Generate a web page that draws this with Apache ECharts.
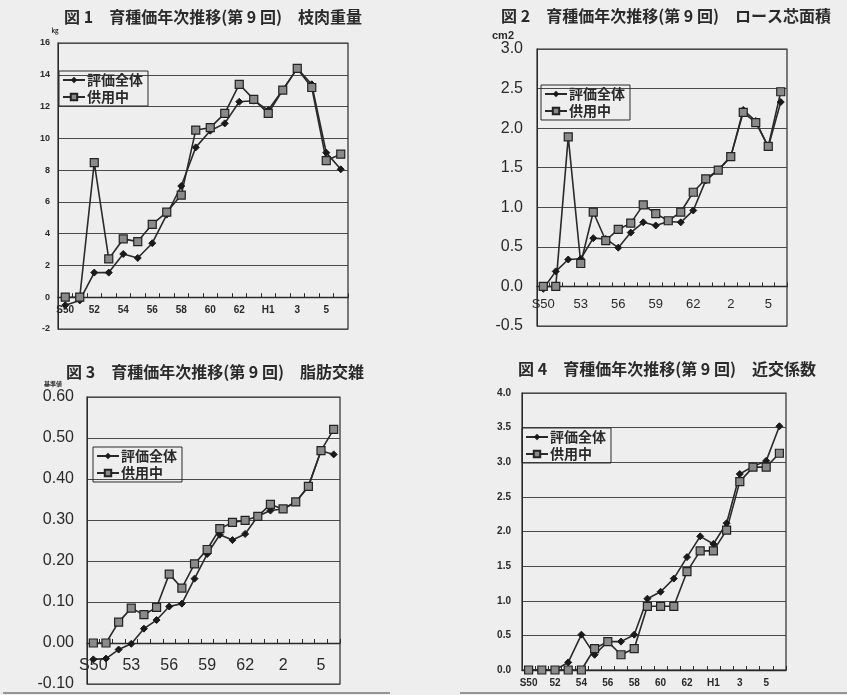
<!DOCTYPE html>
<html>
<head>
<meta charset="utf-8">
<script src="https://cdn.jsdelivr.net/npm/echarts@6/dist/echarts.min.js"></script>
<style>
html,body{margin:0;padding:0;background:#eeeeee;}
#c{width:847px;height:695px;}
</style>
</head>
<body>
<div id="c"></div>
<script>
const categories = ['S50','51','52','53','54','55','56','57','58','59','60','61','62','63','H1','2','3','4','5','6'];
const seriesNames = ['評価全体','供用中'];
const titles = [
  '図 1　育種価年次推移(第 9 回)　枝肉重量',
  '図 2　育種価年次推移(第 9 回)　ロース芯面積',
  '図 3　育種価年次推移(第 9 回)　脂肪交雑',
  '図 4　育種価年次推移(第 9 回)　近交係数'
];
const units = ['kg','cm2','基準値',''];

const c1All = [-0.5,-0.2,1.55,1.55,2.72,2.47,3.4,5.2,7.0,9.43,10.48,10.94,12.3,12.37,11.78,13.04,14.4,13.4,9.1,8.05];
const c1Use = [0,0,8.47,2.41,3.67,3.5,4.59,5.35,6.43,10.52,10.67,11.57,13.4,12.45,11.57,13.04,14.4,13.2,8.6,9.0];
const c2All = [-0.03,0.19,0.34,0.35,0.61,0.6,0.49,0.68,0.81,0.77,0.82,0.81,0.96,1.34,1.47,1.64,2.23,2.09,1.76,2.33];
const c2Use = [0,0,1.89,0.29,0.94,0.58,0.72,0.8,1.03,0.92,0.83,0.94,1.19,1.36,1.47,1.64,2.2,2.07,1.77,2.46];
const c3All = [-0.04,-0.038,-0.016,-0.002,0.035,0.056,0.089,0.096,0.157,0.217,0.264,0.251,0.266,0.309,0.323,0.327,0.344,0.382,0.469,0.46];
const c3Use = [0,0,0.051,0.085,0.069,0.087,0.168,0.134,0.193,0.228,0.279,0.294,0.299,0.309,0.338,0.327,0.344,0.382,0.469,0.521];
const c4All = [0,0,0,0.11,0.51,0.22,0.41,0.41,0.51,1.03,1.13,1.32,1.63,1.93,1.82,2.12,2.83,2.94,3.02,3.52];
const c4Use = [0,0,0,0,0,0.31,0.41,0.22,0.31,0.92,0.92,0.92,1.42,1.72,1.72,2.02,2.72,2.93,2.93,3.13];

const yMin = [-2,-0.5,-0.1,0];
const yMax = [16,3.0,0.6,4.0];
const yStep = [2,0.5,0.1,0.5];
const yDecimals = [0,1,2,1];
const xLabelEvery = [1,2,2,1];

const allData = [[c1All,c1Use],[c2All,c2Use],[c3All,c3Use],[c4All,c4Use]];

// layout (pixels)
const grids = [
  {left:58, top:43, width:290, height:286},
  {left:537, top:49, width:250, height:277},
  {left:87, top:397, width:253, height:287},
  {left:522, top:393, width:264, height:277}
];
const yFont = [
  {fontSize:9, fontWeight:'bold', margin:8},
  {fontSize:16, fontWeight:'normal', margin:14},
  {fontSize:16, fontWeight:'normal', margin:13},
  {fontSize:10, fontWeight:'bold', margin:11}
];
const xFont = [
  {fontSize:10, fontWeight:'bold', margin:-24},
  {fontSize:13, fontWeight:'normal', margin:-28},
  {fontSize:16, fontWeight:'normal', margin:-26},
  {fontSize:10, fontWeight:'bold', margin:8}
];
const legendPos = [
  {left:59, top:71},
  {left:541, top:85},
  {left:93, top:447},
  {left:522, top:428}
];
const titlePos = [[213,17],[666,16],[215,372],[667,369]];
const unitPos = [[55,31,'6px'],[503,36,'11px'],[53,384,'6px'],[0,0,'1px']];

const NUMFONT = '"Liberation Sans", Arial, sans-serif';
const JPFONT = '"Noto Sans CJK JP", sans-serif';
const INK = '#2a2a2a';

const option = {
  backgroundColor:'#eeeeee',
  animation:false,
  grid: grids.map(g => Object.assign({show:true, borderColor:INK, borderWidth:1.2, backgroundColor:'transparent', containLabel:false, outerBoundsMode:'none'}, g)),
  xAxis: grids.map((g,i) => ({
    type:'category', gridIndex:i, data:categories, boundaryGap:true,
    axisLine:{onZero:true, lineStyle:{color:INK, width:1.3}},
    axisTick:{show:true, inside:true, length:4, interval:0, lineStyle:{color:INK}},
    axisLabel:{interval:xLabelEvery[i], color:INK, fontFamily:NUMFONT, fontSize:xFont[i].fontSize, fontWeight:xFont[i].fontWeight, margin:xFont[i].margin},
    splitLine:{show:false}
  })),
  yAxis: grids.map((g,i) => ({
    type:'value', gridIndex:i, min:yMin[i], max:yMax[i], interval:yStep[i],
    axisLine:{show:true, onZero:false, lineStyle:{color:INK}},
    axisTick:{show:false},
    axisLabel:{color:INK, fontFamily:NUMFONT, fontSize:yFont[i].fontSize, fontWeight:yFont[i].fontWeight, margin:yFont[i].margin,
      formatter: v => (Math.abs(v) < 1e-9 ? 0 : v).toFixed(yDecimals[i])},
    splitLine:{show:true, lineStyle:{color:'#4a4a4a', width:1}}
  })),
  legend: legendPos.map((p,i) => ({
    left:p.left, top:p.top, orient:'vertical', data:seriesNames,
    borderColor:INK, borderWidth:1, padding:[2,5,2,3], itemGap:3,
    itemWidth:22, itemHeight:8, selectedMode:false,
    textStyle:{fontFamily:JPFONT, fontSize:14, fontWeight:'bold', color:INK, padding:[0,0,0,-3]}
  })),
  series: [],
  graphic: []
};

allData.forEach((pair,i) => {
  option.series.push({
    name:seriesNames[0], type:'line', xAxisIndex:i, yAxisIndex:i, data:pair[0],
    symbol:'diamond', symbolSize:7, showSymbol:true,
    lineStyle:{color:INK, width:1.6}, itemStyle:{color:'#1a1a1a', borderColor:'#1a1a1a'}
  });
  option.series.push({
    name:seriesNames[1], type:'line', xAxisIndex:i, yAxisIndex:i, data:pair[1],
    symbol:'rect', symbolSize:8, showSymbol:true,
    lineStyle:{color:INK, width:1.6}, itemStyle:{color:'#8a8a8a', borderColor:'#222', borderWidth:1.2}
  });
  option.graphic.push({
    type:'text', x:titlePos[i][0], y:titlePos[i][1], silent:true,
    style:{text:titles[i], font:'bold 16px ' + JPFONT, fill:INK, align:'center', verticalAlign:'middle'}
  });
  if (units[i]) {
    option.graphic.push({
      type:'text', x:unitPos[i][0], y:unitPos[i][1], silent:true,
      style:{text:units[i], font:'bold ' + unitPos[i][2] + ' ' + (i===1 ? NUMFONT : JPFONT), fill:INK, align:'center', verticalAlign:'middle'}
    });
  }
});

// scan page edge lines
option.graphic.push({type:'line', silent:true, shape:{x1:3, y1:693, x2:390, y2:693}, style:{stroke:'#777', lineWidth:1.5}});
option.graphic.push({type:'line', silent:true, shape:{x1:460, y1:693, x2:847, y2:693}, style:{stroke:'#777', lineWidth:1.5}});

const chart = echarts.init(document.getElementById('c'), null, {renderer:'canvas'});
chart.setOption(option);
</script>
</body>
</html>
